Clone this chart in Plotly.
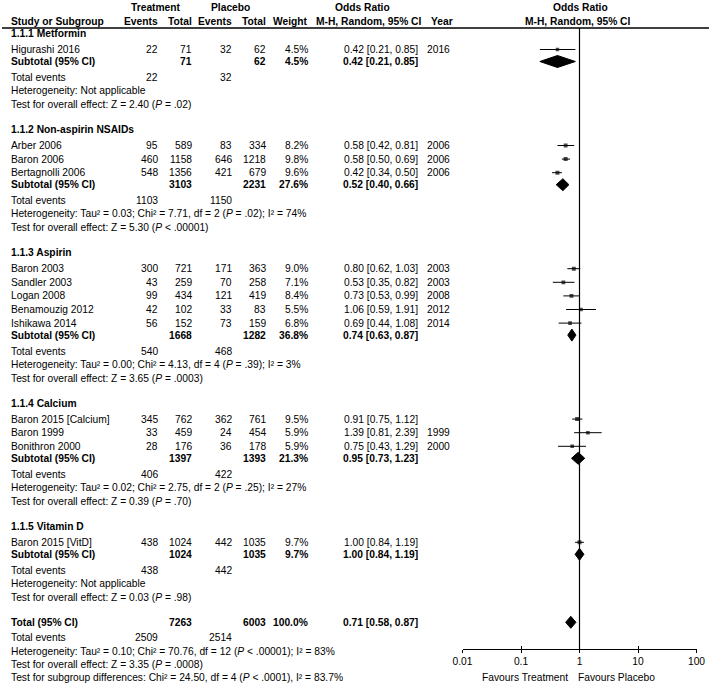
import plotly.graph_objects as go

# ---------------- DATA ----------------
group_names = ["1.1.1 Metformin", "1.1.2 Non-aspirin NSAIDs", "1.1.3 Aspirin",
               "1.1.4 Calcium", "1.1.5 Vitamin D"]

study_names = ["Higurashi 2016", "Arber 2006", "Baron 2006", "Bertagnolli 2006",
               "Baron 2003", "Sandler 2003", "Logan 2008", "Benamouzig 2012", "Ishikawa 2014",
               "Baron 2015 [Calcium]", "Baron 1999", "Bonithron 2000", "Baron 2015 [VitD]"]
study_group = [0, 1, 1, 1, 2, 2, 2, 2, 2, 3, 3, 3, 4]
trt_events = [22, 95, 460, 548, 300, 43, 99, 42, 56, 345, 33, 28, 438]
trt_total = [71, 589, 1158, 1356, 721, 259, 434, 102, 152, 762, 459, 176, 1024]
pla_events = [32, 83, 646, 421, 171, 70, 121, 33, 73, 362, 24, 36, 442]
pla_total = [62, 334, 1218, 679, 363, 258, 419, 83, 159, 761, 454, 178, 1035]
weights = [4.5, 8.2, 9.8, 9.6, 9.0, 7.1, 8.4, 5.5, 6.8, 9.5, 5.9, 5.9, 9.7]
or_est = [0.42, 0.58, 0.58, 0.42, 0.80, 0.53, 0.73, 1.06, 0.69, 0.91, 1.39, 0.75, 1.00]
or_lo = [0.21, 0.42, 0.50, 0.34, 0.62, 0.35, 0.53, 0.59, 0.44, 0.75, 0.81, 0.43, 0.84]
or_hi = [0.85, 0.81, 0.69, 0.50, 1.03, 0.82, 0.99, 1.91, 1.08, 1.12, 2.39, 1.29, 1.19]
years = ["2016", "2006", "2006", "2006", "2003", "2003", "2008", "2012", "2014",
         "", "1999", "2000", ""]

sub_trt_total = [71, 3103, 1668, 1397, 1024]
sub_pla_total = [62, 2231, 1282, 1393, 1035]
sub_weight = [4.5, 27.6, 36.8, 21.3, 9.7]
sub_or = [0.42, 0.52, 0.74, 0.95, 1.00]
sub_lo = [0.21, 0.40, 0.63, 0.73, 0.84]
sub_hi = [0.85, 0.66, 0.87, 1.23, 1.19]
sub_trt_events = [22, 1103, 540, 406, 438]
sub_pla_events = [32, 1150, 468, 422, 442]
sub_het = ["Not applicable",
           "Tau² = 0.03; Chi² = 7.71, df = 2 (<i>P</i> = .02); I² = 74%",
           "Tau² = 0.00; Chi² = 4.13, df = 4 (<i>P</i> = .39); I² = 3%",
           "Tau² = 0.02; Chi² = 2.75, df = 2 (<i>P</i> = .25); I² = 27%",
           "Not applicable"]
sub_z = ["2.40", "5.30", "3.65", "0.39", "0.03"]
sub_p = ["= .02", "< .00001", "= .0003", "= .70", "= .98"]

total_trt_total = 7263
total_pla_total = 6003
total_weight = 100.0
total_or = [0.71, 0.58, 0.87]
total_trt_events = 2509
total_pla_events = 2514
total_het = "Tau² = 0.10; Chi² = 70.76, df = 12 (<i>P</i> < .00001); I² = 83%"
total_z = "3.35"
total_p = "= .0008"
subgroup_test = "Chi² = 24.50, df = 4 (<i>P</i> < .0001), I² = 83.7%"

tick_vals = [0.01, 0.1, 1, 10, 100]
tick_text = ["0.01", "0.1", "1", "10", "100"]

# ---------------- LAYOUT HELPERS ----------------
W, H = 709, 683
FONT = "Liberation Sans, Arial, sans-serif"
FS = 10.25
annotations = []


def ann(x, y, text, anchor="left", bold=False):
    if bold:
        text = "<b>" + text + "</b>"
    annotations.append(dict(x=x / W, y=y, xref="paper", yref="y", text=text,
                            showarrow=False, xanchor=anchor, yanchor="middle",
                            font=dict(family=FONT, size=FS, color="black"),
                            borderpad=0))


COL_NAME = 10
COL_TE, COL_TT, COL_PE, COL_PT, COL_W, COL_OR, COL_YR = 159, 193, 233, 267, 309, 419, 451

# header
ann(156, 7, "Treatment", "center", True)
ann(230, 7, "Placebo", "center", True)
ann(362, 7, "Odds Ratio", "center", True)
ann(580, 7, "Odds Ratio", "center", True)
ann(COL_NAME, 21, "Study or Subgroup", "left", True)
ann(COL_TE, 21, "Events", "right", True)
ann(COL_TT, 21, "Total", "right", True)
ann(COL_PE, 21, "Events", "right", True)
ann(COL_PT, 21, "Total", "right", True)
ann(COL_W, 21, "Weight", "right", True)
ann(423, 21, "M-H, Random, 95% CI", "right", True)
ann(430, 21, "Year", "left", True)
ann(578, 21, "M-H, Random, 95% CI", "center", True)

# row positions
study_y = []
sub_y = []
y = 33.5
for g, gname in enumerate(group_names):
    ann(COL_NAME, y, gname, "left", True)
    idx = [i for i, sg in enumerate(study_group) if sg == g]
    y += 16
    for k, i in enumerate(idx):
        if k > 0:
            y += 13.6
        study_y.append(y)
    y += 12
    sub_y.append(y)
    ys = y
    y += 16
    ann(COL_NAME, y, "Total events")
    ann(COL_TE, y, str(sub_trt_events[g]), "right")
    ann(COL_PE, y, str(sub_pla_events[g]), "right")
    y += 13
    ann(COL_NAME, y, "Heterogeneity: " + sub_het[g])
    y += 14
    ann(COL_NAME, y, "Test for overall effect: Z = %s (<i>P</i> %s)" % (sub_z[g], sub_p[g]))
    y += 25
    # subtotal row text
    ann(COL_NAME, ys, "Subtotal (95% CI)", "left", True)
    ann(COL_TT, ys, str(sub_trt_total[g]), "right", True)
    ann(COL_PT, ys, str(sub_pla_total[g]), "right", True)
    ann(COL_W, ys, "%.1f%%" % sub_weight[g], "right", True)
    ann(COL_OR, ys, "%.2f [%.2f, %.2f]" % (sub_or[g], sub_lo[g], sub_hi[g]), "right", True)

total_y = y
ann(COL_NAME, total_y, "Total (95% CI)", "left", True)
ann(COL_TT, total_y, str(total_trt_total), "right", True)
ann(COL_PT, total_y, str(total_pla_total), "right", True)
ann(COL_W, total_y, "%.1f%%" % total_weight, "right", True)
ann(COL_OR, total_y, "%.2f [%.2f, %.2f]" % tuple(total_or), "right", True)
y += 15
ann(COL_NAME, y, "Total events")
ann(COL_TE, y, str(total_trt_events), "right")
ann(COL_PE, y, str(total_pla_events), "right")
y += 14
ann(COL_NAME, y, "Heterogeneity: " + total_het)
y += 13
ann(COL_NAME, y, "Test for overall effect: Z = %s (<i>P</i> %s)" % (total_z, total_p))
y += 13
ann(COL_NAME, y, "Test for subgroup differences: " + subgroup_test)

# study rows text
for i, name in enumerate(study_names):
    yy = study_y[i]
    ann(COL_NAME, yy, name)
    ann(COL_TE, yy, str(trt_events[i]), "right")
    ann(COL_TT, yy, str(trt_total[i]), "right")
    ann(COL_PE, yy, str(pla_events[i]), "right")
    ann(COL_PT, yy, str(pla_total[i]), "right")
    ann(COL_W, yy, "%.1f%%" % weights[i], "right")
    ann(COL_OR, yy, "%.2f [%.2f, %.2f]" % (or_est[i], or_lo[i], or_hi[i]), "right")
    if years[i]:
        ann(COL_YR, yy, years[i], "right")

AXIS_Y = 649
ann(569, 677, "Favours Treatment", "right")
ann(577, 677, "Favours Placebo", "left")

# ---------------- TRACES ----------------
fig = go.Figure()

# CI lines
cx, cy = [], []
for i in range(len(study_names)):
    cx += [or_lo[i], or_hi[i], None]
    cy += [study_y[i], study_y[i], None]
fig.add_trace(go.Scatter(x=cx, y=cy, mode="lines", line=dict(color="black", width=1),
                         hoverinfo="skip", showlegend=False))
# study squares
fig.add_trace(go.Scatter(x=or_est, y=study_y, mode="markers",
                         marker=dict(symbol="square", color="black",
                                     size=[3 + w / 10 for w in weights], line=dict(width=0)),
                         showlegend=False))

# diamonds
DH = 6
diam_sets = [(sub_or[g], sub_lo[g], sub_hi[g], sub_y[g]) for g in range(len(group_names))]
diam_sets.append((total_or[0], total_or[1], total_or[2], total_y))
for est, lo, hi, yy in diam_sets:
    fig.add_trace(go.Scatter(x=[lo, est, hi, est, lo], y=[yy, yy - DH, yy, yy + DH, yy],
                             mode="lines", fill="toself", fillcolor="black",
                             line=dict(color="black", width=1), showlegend=False,
                             hoverinfo="skip"))

x0_px, x1_px = 462.5, 696.5
pos = 1 - AXIS_Y / H
axis_common = dict(type="log", range=[-2, 2], domain=[x0_px / W, x1_px / W],
                   anchor="free", position=pos, showgrid=False, zeroline=False,
                   tickvals=tick_vals, ticktext=tick_text, tickcolor="black",
                   ticklen=3, tickwidth=1, automargin=False)

fig.update_layout(
    width=W, height=H, autosize=False,
    margin=dict(l=0, r=0, t=0, b=0, pad=0, autoexpand=False),
    paper_bgcolor="white", plot_bgcolor="white",
    xaxis=dict(**axis_common, ticks="outside", showline=True, linecolor="black",
               linewidth=1, tickfont=dict(family=FONT, size=FS, color="black")),
    xaxis2=dict(**axis_common, overlaying="x", ticks="inside", showline=False,
                showticklabels=False),
    yaxis=dict(range=[H, 0], domain=[0, 1], visible=False, fixedrange=True,
               automargin=False),
    annotations=annotations,
    shapes=[
        dict(type="line", xref="paper", yref="y", x0=2 / W, x1=1, y0=28, y1=28,
             line=dict(color="black", width=1.5)),
        dict(type="line", xref="x", yref="y", x0=1, x1=1, y0=28, y1=AXIS_Y,
             line=dict(color="black", width=1.2)),
    ],
    showlegend=False,
)
# invisible trace so the overlaying axis draws
fig.add_trace(go.Scatter(x=[1], y=[AXIS_Y], xaxis="x2", mode="markers",
                         marker=dict(opacity=0), hoverinfo="skip", showlegend=False))

fig.write_html("out.html", config={"displayModeBar": False},
               post_script="document.body.style.margin='0';document.body.style.overflow='hidden';")
